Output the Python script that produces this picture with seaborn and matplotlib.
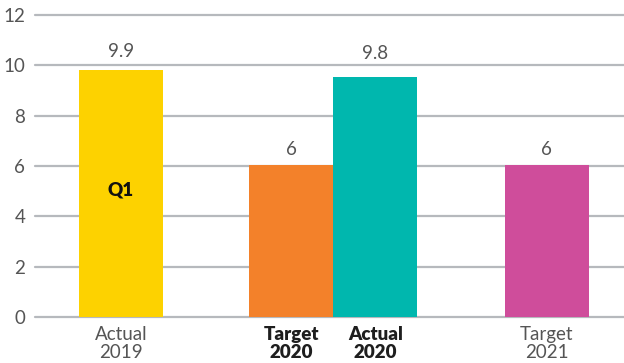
import matplotlib
matplotlib.use("Agg")
import matplotlib.pyplot as plt
import seaborn as sns
import pandas as pd

# ---- data ----
categories = ["Actual\n2019", "Target\n2020", "Actual\n2020", "Target\n2021"]
values = [9.8, 6.05, 9.55, 6.05]          # bar heights as drawn
value_labels = ["9.9", "6", "9.8", "6"]    # printed labels
label_values = [9.9, 6, 9.8, 6]
bold_labels = [False, True, True, False]
colors = ["#FDD200", "#F3812A", "#00B7AE", "#CF4D9B"]
yticks = [0, 2, 4, 6, 8, 10, 12]

# ---- layout ----
positions = [0.0, 2.03, 3.03, 5.07]

sns.set_style("white")
plt.rcParams["font.family"] = ["Lato", "DejaVu Sans"]

fig = plt.figure(figsize=(6.24, 3.63), dpi=100)
ax = fig.add_axes([35 / 624, 1 - 317 / 363, 1 - 35 / 624, (317 - 15) / 363])

df = pd.DataFrame({"pos": positions, "value": values, "cat": categories})
sns.barplot(data=df, x="pos", y="value", hue="cat", palette=colors,
            native_scale=True, width=1.0, saturation=1, legend=False,
            ax=ax, zorder=3, linewidth=0)

gray = "#555555"
ax.set_xlim(-1.024, 5.99)
ax.set_ylim(0, 12)
ax.set_yticks(yticks)
ax.set_yticklabels([str(t) for t in yticks], fontsize=13.5, color=gray)
ax.yaxis.grid(True, color="#b6b9bd", linewidth=1.6, zorder=0)
ax.set_axisbelow(True)
for gl in ax.get_ygridlines():
    gl.set_clip_on(False)
for s in ax.spines.values():
    s.set_visible(False)
ax.tick_params(axis="y", length=0, pad=7)
ax.tick_params(axis="x", length=0, pad=6.5)
ax.set_xlabel("")
ax.set_ylabel("")

ax.set_xticks(positions)
ax.set_xticklabels(categories, fontsize=13.5, linespacing=1.08)
for lbl, b in zip(ax.get_xticklabels(), bold_labels):
    if b:
        lbl.set_fontweight("heavy")
        lbl.set_color("#1e1e1e")
    else:
        lbl.set_color(gray)

for p, lv, txt in zip(positions, label_values, value_labels):
    ax.annotate(txt, (p, lv), xytext=(0, 6), textcoords="offset points",
                ha="center", va="bottom", fontsize=13.5, color=gray)

ax.text(positions[0], 5.05, "Q1", ha="center", va="center", fontsize=13.5,
        fontweight="heavy", color="#111111", zorder=5)

fig.savefig("out.png", dpi=100)
